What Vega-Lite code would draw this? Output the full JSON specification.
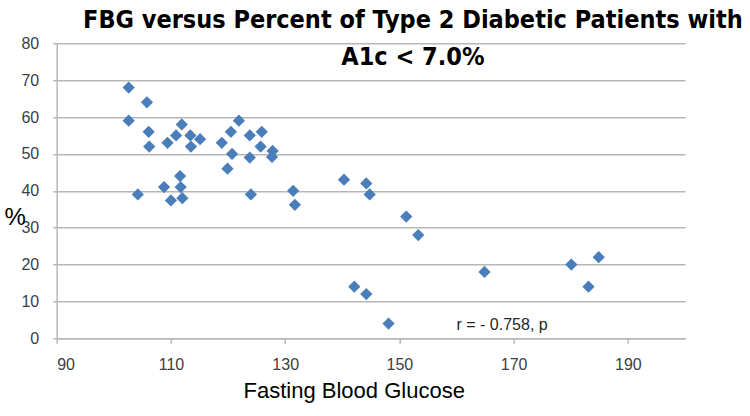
{
  "$schema": "https://vega.github.io/schema/vega-lite/v6.json",
  "width": 628.3,
  "height": 295,
  "autosize": {"type": "none"},
  "padding": {"left": 56.7, "top": 43.3, "right": 65, "bottom": 77.7},
  "background": "white",
  "title": {
    "text": ["FBG versus Percent of Type 2 Diabetic Patients with", "A1c < 7.0%"],
    "font": "Liberation Sans Narrow, DejaVu Sans Condensed, sans-serif",
    "fontSize": 25,
    "fontWeight": "bold",
    "color": "#000000",
    "anchor": "middle",
    "frame": "group",
    "baseline": "alphabetic",
    "lineHeight": 37,
    "offset": 0,
    "dx": 42,
    "dy": 55
  },
  "config": {
    "view": {"stroke": null},
    "font": "Liberation Sans"
  },
  "encoding": {
    "x": {
      "field": "fbg",
      "type": "quantitative",
      "scale": {"domain": [90, 200], "nice": false, "zero": false},
      "axis": {
        "values": [90, 110, 130, 150, 170, 190],
        "grid": false,
        "domainColor": "#b7b7b7",
        "domainWidth": 1.5,
        "tickColor": "#b7b7b7",
        "tickWidth": 1.5,
        "tickSize": 5,
        "labelFont": "Liberation Sans",
        "labelFontSize": 16,
        "labelColor": "#404040",
        "labelPadding": 13,
        "title": "Fasting Blood Glucose",
        "titleFont": "Liberation Sans",
        "titleFontSize": 22,
        "titleFontWeight": "normal",
        "titleColor": "#000000",
        "titleX": 297,
        "titleY": 59,
        "titleAlign": "center",
        "titleBaseline": "alphabetic"
      }
    },
    "y": {
      "field": "pct",
      "type": "quantitative",
      "scale": {"domain": [0, 80], "nice": false},
      "axis": {
        "values": [0, 10, 20, 30, 40, 50, 60, 70, 80],
        "labelOverlap": false,
        "grid": true,
        "gridColor": "#b7b7b7",
        "gridWidth": 1.5,
        "domainColor": "#b7b7b7",
        "domainWidth": 1.5,
        "tickColor": "#b7b7b7",
        "tickWidth": 1.5,
        "tickSize": 4,
        "labelFont": "Liberation Sans",
        "labelFontSize": 16,
        "labelColor": "#404040",
        "labelPadding": 14,
        "title": "%",
        "titleFont": "Liberation Sans",
        "titleFontSize": 24,
        "titleFontWeight": "normal",
        "titleColor": "#000000",
        "titleAngle": 0,
        "titleX": -42,
        "titleY": 174,
        "titleAlign": "center",
        "titleBaseline": "middle"
      }
    }
  },
  "layer": [
    {
      "data": {
        "values": [
          {"fbg": 102.6, "pct": 68},
          {"fbg": 102.6, "pct": 59},
          {"fbg": 105.8, "pct": 64},
          {"fbg": 106.1, "pct": 56},
          {"fbg": 106.2, "pct": 52},
          {"fbg": 104.2, "pct": 39},
          {"fbg": 109.4, "pct": 53},
          {"fbg": 110.9, "pct": 55},
          {"fbg": 111.9, "pct": 58},
          {"fbg": 113.4, "pct": 55},
          {"fbg": 113.5, "pct": 52},
          {"fbg": 115.1, "pct": 54},
          {"fbg": 108.8, "pct": 41},
          {"fbg": 111.6, "pct": 44},
          {"fbg": 111.7, "pct": 41},
          {"fbg": 110.0, "pct": 37.4},
          {"fbg": 112.0, "pct": 38},
          {"fbg": 118.9, "pct": 53},
          {"fbg": 120.5, "pct": 56},
          {"fbg": 121.9, "pct": 59},
          {"fbg": 120.7, "pct": 50},
          {"fbg": 119.9, "pct": 46},
          {"fbg": 123.8, "pct": 55},
          {"fbg": 125.9, "pct": 56},
          {"fbg": 123.8, "pct": 49},
          {"fbg": 125.7, "pct": 52},
          {"fbg": 127.8, "pct": 50.8},
          {"fbg": 127.7, "pct": 49.2},
          {"fbg": 124.0, "pct": 39},
          {"fbg": 131.4, "pct": 40},
          {"fbg": 131.7, "pct": 36.2},
          {"fbg": 140.3, "pct": 43},
          {"fbg": 144.2, "pct": 42},
          {"fbg": 144.8, "pct": 39},
          {"fbg": 151.2, "pct": 33},
          {"fbg": 153.3, "pct": 28},
          {"fbg": 142.1, "pct": 14},
          {"fbg": 144.2, "pct": 12},
          {"fbg": 148.1, "pct": 4},
          {"fbg": 164.9, "pct": 18},
          {"fbg": 180.1, "pct": 20},
          {"fbg": 183.1, "pct": 14},
          {"fbg": 184.9, "pct": 22}
        ]
      },
      "mark": {"type": "point", "shape": "diamond", "filled": true, "opacity": 1, "size": 150, "color": "#4a7ebb"}
    },
    {
      "data": {"values": [{"fbg": 160, "pct": 2.25, "label": "r = - 0.758, p"}]},
      "mark": {"type": "text", "align": "left", "baseline": "alphabetic", "font": "Liberation Sans", "fontSize": 16, "color": "#262626"},
      "encoding": {
        "text": {"field": "label"}
      }
    }
  ]
}
